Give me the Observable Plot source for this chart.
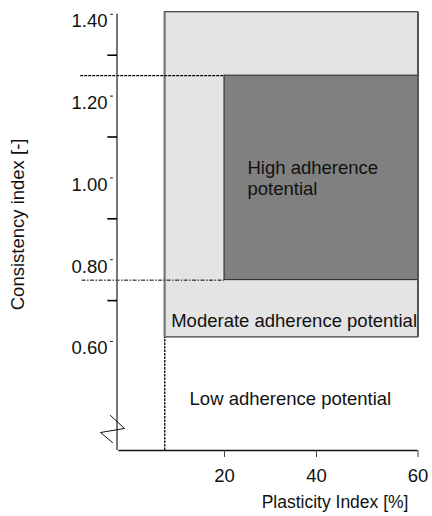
<!DOCTYPE html>
<html>
<head>
<meta charset="utf-8">
<script src="https://cdn.jsdelivr.net/npm/d3@7"></script>
<script src="https://cdn.jsdelivr.net/npm/@observablehq/plot@0.6"></script>
<style>
  html, body { margin: 0; padding: 0; background: #fff; }
</style>
</head>
<body>
<div id="chart"></div>
<script>
// ---- data ----
const xTicks = [20, 40, 60];
const yMajorTicks = [0.6, 0.8, 1.0, 1.2, 1.4];
const yMinorTicks = [0.7, 0.9, 1.1, 1.3];
const xTitle = "Plasticity Index [%]";
const yTitle = "Consistency index [-]";

// adherence zones (plasticity index range, consistency index range)
const zoneNames = ["Moderate adherence potential", "High adherence potential"];
const zoneX1 = [7, 20];
const zoneX2 = [60, 60];
const zoneY1 = [0.61, 0.75];
const zoneY2 = [1.405, 1.25];

// region labels
const labelText = ["High adherence\npotential", "Moderate adherence potential", "Low adherence potential"];
const labelX = [25, 8.4, 12.4];
const labelY = [1.0, 0.652, 0.462];

// threshold guide lines
const guideY = [1.25, 0.75];
const guideYFrom = [-11.3, -11];
const guideYTo = [20, 20];
const guideX = 7;

// axis extent and axis-break glyph (data units)
const xMin = -3.4, xMax = 60;
const yMin = 0.3335, yMax = 1.40;
const minorTickStart = -5.5;
const breakX = [-4.81, -1.77, -6.99, -4.38];
const breakY = [0.419, 0.3873, 0.3775, 0.3531];

// ---- tables ----
const zones = zoneNames.map((name, i) => ({name, x1: zoneX1[i], x2: zoneX2[i], y1: zoneY1[i], y2: zoneY2[i]}));
const labels = labelText.map((t, i) => ({t, x: labelX[i], y: labelY[i]}));
const guides = guideY.map((y, i) => ({y, x1: guideYFrom[i], x2: guideYTo[i]}));
const breakPts = breakX.map((x, i) => ({x, y: breakY[i]}));
const minorTicks = yMinorTicks.map(y => ({y, x1: minorTickStart, x2: xMin}));

const W = 432, H = 516;
const chart = Plot.plot({
  width: W,
  height: H,
  marginLeft: 116.5,
  marginRight: 14.5,
  marginTop: 13.8,
  marginBottom: 66,
  style: {fontFamily: "'Liberation Sans', Arial, sans-serif", fontSize: "18.5px", color: "#111", background: "#fff"},
  x: {type: "linear", domain: [xMin, 20, 40, 60], range: [116.5, 224, 316, 417.5], label: null},
  y: {type: "linear", domain: [yMin, yMax], range: [450, 13.8], label: null},
  marks: [
    // zones
    Plot.rect([zones[0]], {x1: "x1", x2: "x2", y1: "y1", y2: "y2", fill: "#e4e4e4", stroke: "#111", strokeWidth: 1}),
    Plot.ruleX([zones[0]], {x: "x1", y1: "y1", y2: "y2", stroke: "#7a7a7a", strokeWidth: 2}),
    Plot.rect([zones[1]], {x1: "x1", x2: "x2", y1: "y1", y2: "y2", fill: "#808080", stroke: "#222", strokeWidth: 1}),
    Plot.ruleX([zones[0]], {x: "x2", y1: "y1", y2: "y2", stroke: "#555", strokeWidth: 2}),
    // guide lines
    Plot.ruleY([guides[0]], {y: "y", x1: "x1", x2: "x2", stroke: "#000", strokeWidth: 1.1, strokeDasharray: "3,1"}),
    Plot.ruleY([guides[1]], {y: "y", x1: "x1", x2: "x2", stroke: "#000", strokeWidth: 1, strokeDasharray: "4,1.5,1.5,1.5"}),
    Plot.ruleX([guideX], {y1: yMin, y2: zoneY1[0], stroke: "#000", strokeWidth: 1.3, strokeDasharray: "2.5,1"}),
    // axis lines
    Plot.ruleX([xMin], {y1: yMin, y2: yMax, stroke: "#555", strokeWidth: 1.6}),
    Plot.ruleY([yMin], {x1: -3.0, x2: xMax, stroke: "#111", strokeWidth: 1.5}),
    // axis break
    Plot.line(breakPts, {x: "x", y: "y", stroke: "#111", strokeWidth: 1}),
    // y axis minor ticks
    Plot.link(minorTicks, {x1: "x1", x2: "x2", y1: "y", y2: "y", stroke: "#000", strokeWidth: 1.6}),
    // y axis major ticks & labels
    Plot.axisY({ticks: yMajorTicks, tickSize: 3, dx: -3.5, tickFormat: () => "", stroke: "#222"}),
    Plot.axisY({ticks: yMajorTicks, tickSize: 0, tickPadding: 9.5, dy: 7, tickFormat: d3.format(".2f"), fill: "#111"}),
    // x axis ticks & labels
    Plot.axisX({ticks: xTicks, tickSize: 7, tickPadding: 11, tickFormat: d3.format("d"), stroke: "#444", fill: "#111"}),
    // region labels
    Plot.text(labels, {x: "x", y: "y", text: "t", textAnchor: "start", lineAnchor: "middle", lineHeight: 1.15, fill: "#111"}),
    // titles
    Plot.text([yTitle], {frameAnchor: "left", dx: -98.5, dy: -8, rotate: -90, textAnchor: "middle", lineAnchor: "middle", fill: "#111"}),
    Plot.text([xTitle], {frameAnchor: "bottom-right", dx: -9.5, dy: 52, textAnchor: "end", lineAnchor: "middle", fontSize: 17.5, fill: "#111"})
  ]
});
document.getElementById("chart").appendChild(chart);
</script>
</body>
</html>
